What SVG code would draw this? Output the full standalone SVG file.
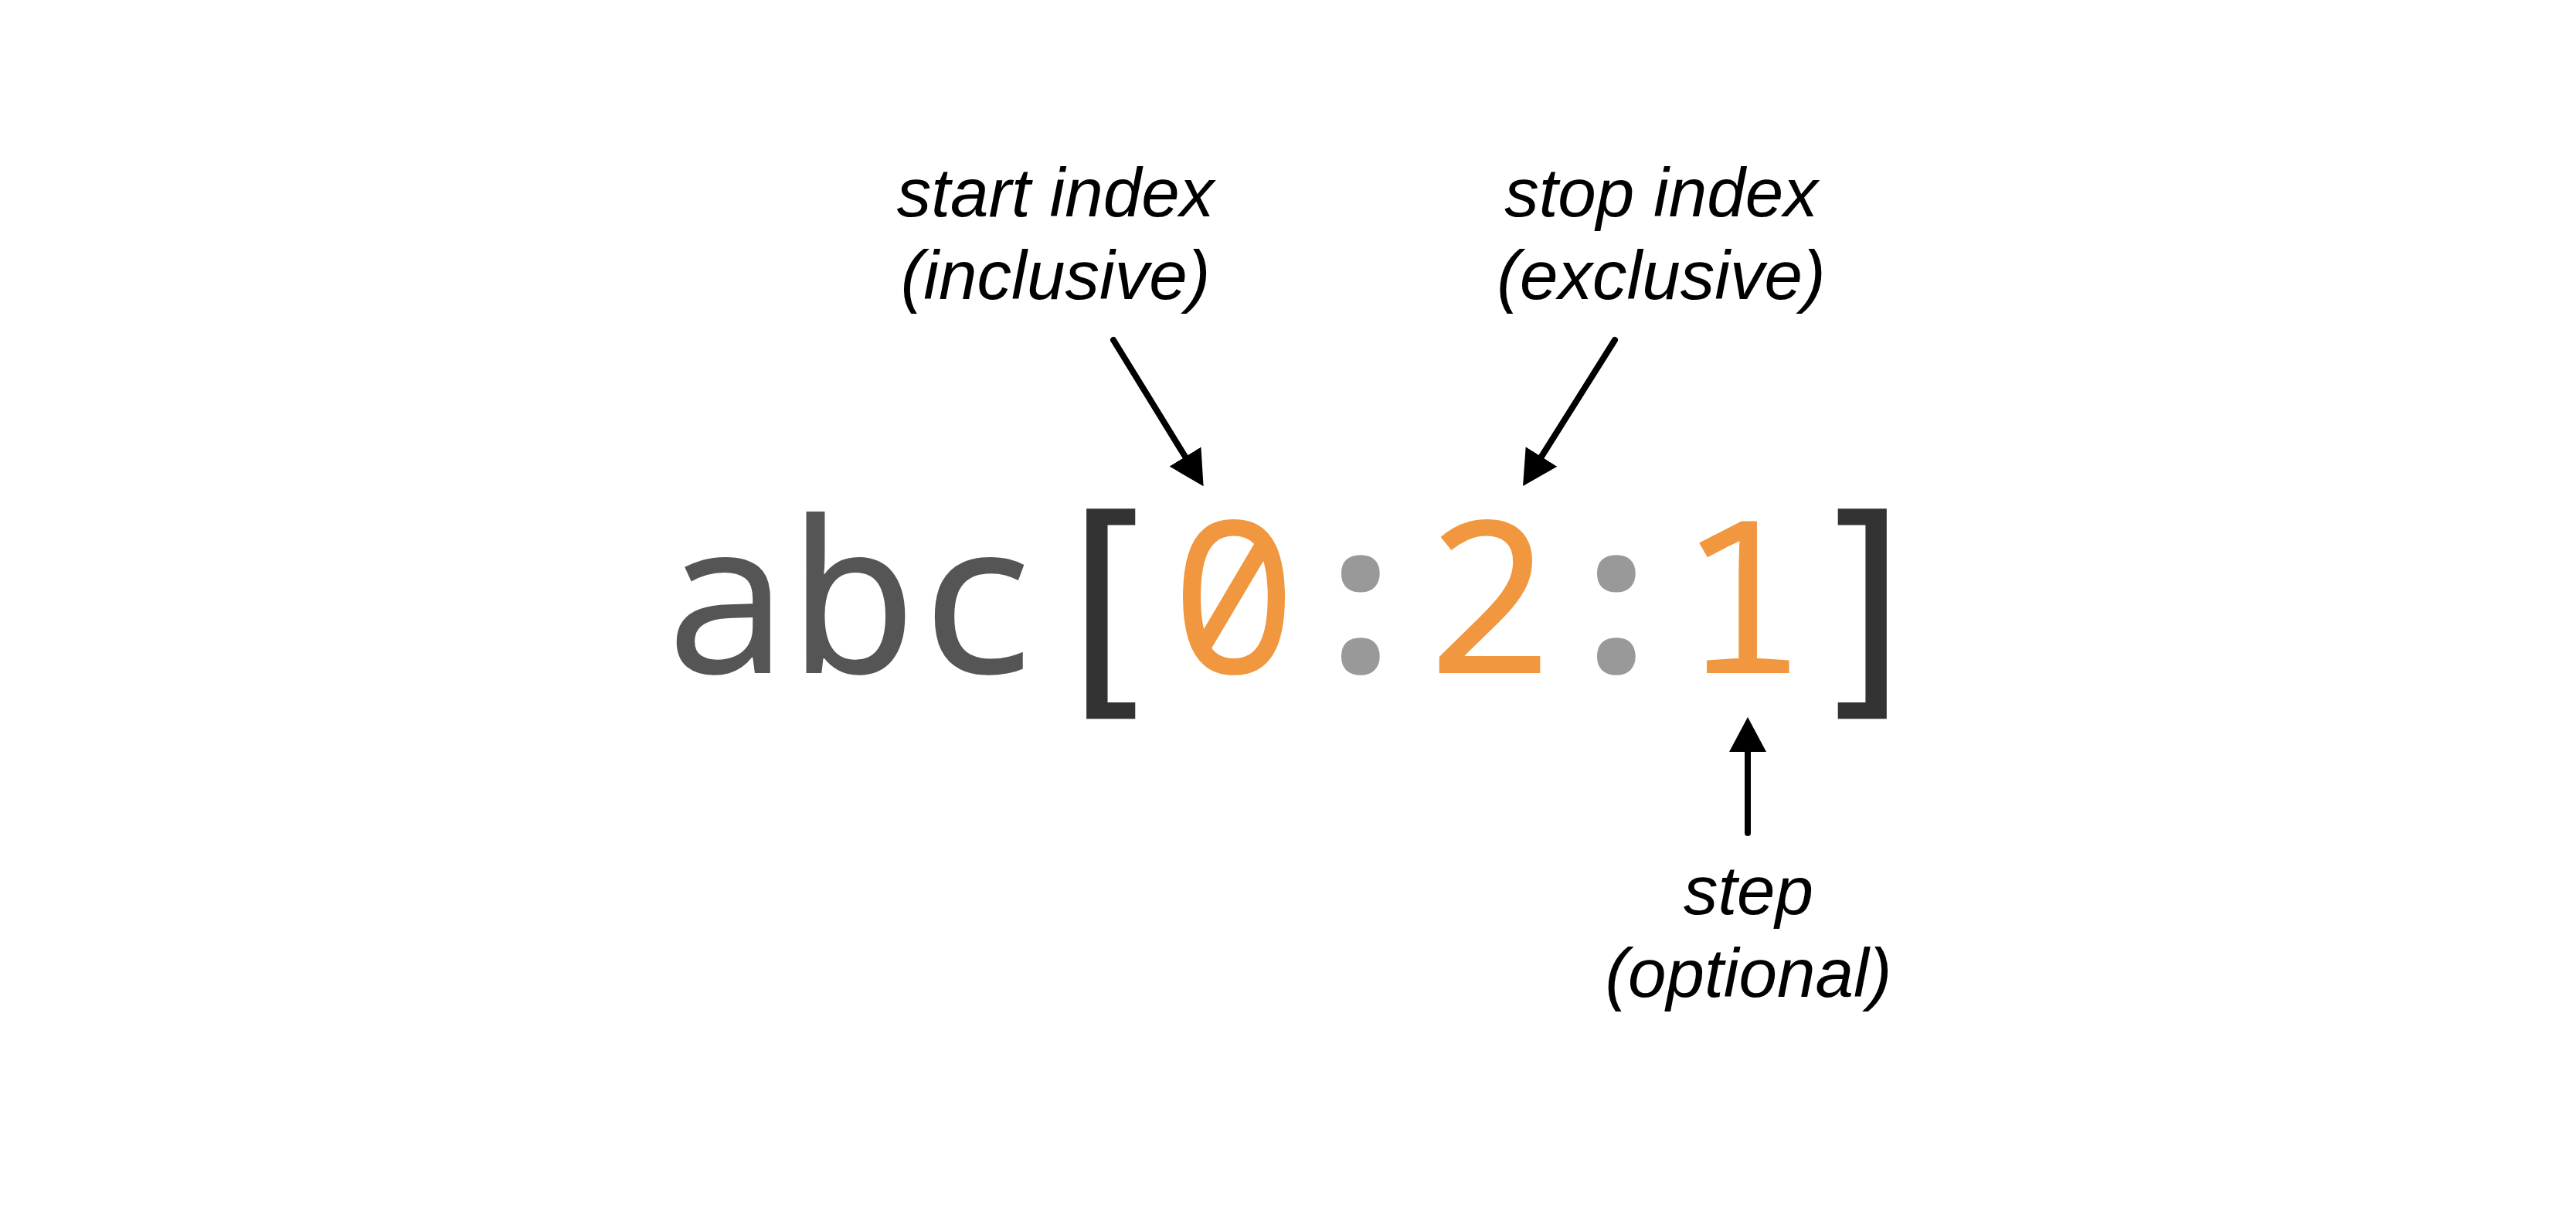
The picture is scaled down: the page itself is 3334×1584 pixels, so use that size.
<svg xmlns="http://www.w3.org/2000/svg" width="3334" height="1584" viewBox="0 0 3334 1584">
<style>
.code{font-family:"Noto Sans Mono","DejaVu Sans Mono",monospace;font-size:275px;text-anchor:middle}
.brk{font-family:"DejaVu Sans Mono","Noto Sans Mono",monospace;font-size:305px;text-anchor:middle;fill:#333333}
.id{fill:#555555}
.num{fill:#F0973F}
.col{fill:#999999;font-weight:700}
.lbl{font-family:"Liberation Sans",Arial,sans-serif;font-style:italic;font-size:89px;fill:#000;text-anchor:middle}
.arr{stroke:#000;stroke-width:8;stroke-linecap:round;fill:none}
</style>
<defs>
<marker id="head" markerUnits="userSpaceOnUse" markerWidth="50" markerHeight="54" viewBox="0 -27 50 54" refX="0" refY="0" orient="auto">
<path d="M0,-24 L45,0 L0,24 Z" fill="#000"/>
</marker>
</defs>
<rect width="3334" height="1584" fill="#fff"/>
<g id="code">
<text class="code id" x="939" y="871">a</text>
<text class="code id" x="1104" y="871">b</text>
<text class="code id" x="1269" y="871">c</text>
<text class="brk" x="1429" y="890">[</text>
<text class="code num" x="1597" y="871">0</text>
<text class="code col" x="1761" y="871">:</text>
<text class="code num" x="1926" y="871">2</text>
<text class="code col" x="2092" y="871">:</text>
<text class="code num" x="2255" y="871">1</text>
<text class="brk" x="2419" y="890">]</text>
</g>
<g id="label-start">
<text class="lbl" x="1366" y="280">start index</text>
<text class="lbl" x="1366" y="387">(inclusive)</text>
</g>
<g id="label-stop">
<text class="lbl" x="2150" y="280">stop index</text>
<text class="lbl" x="2150" y="387">(exclusive)</text>
</g>
<g id="label-step">
<text class="lbl" x="2263" y="1183">step</text>
<text class="lbl" x="2263" y="1290">(optional)</text>
</g>
<g id="connectors">
<line class="arr" x1="1441" y1="440" x2="1534" y2="591" marker-end="url(#head)"/>
<line class="arr" x1="2090" y1="440" x2="1995" y2="591" marker-end="url(#head)"/>
<line class="arr" x1="2262" y1="1078" x2="2262" y2="973" marker-end="url(#head)"/>
</g>
</svg>
